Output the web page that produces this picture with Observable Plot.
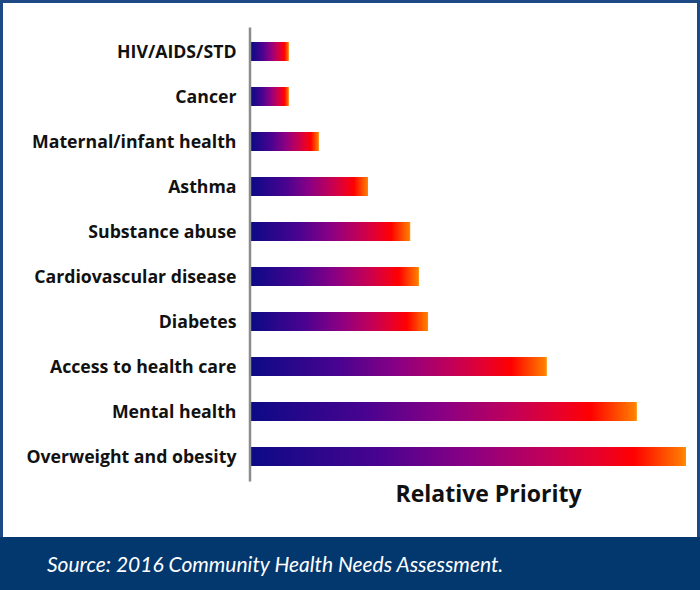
<!DOCTYPE html>
<html>
<head>
<meta charset="utf-8">
<script src="https://cdn.jsdelivr.net/npm/d3@7"></script>
<script src="https://cdn.jsdelivr.net/npm/@observablehq/plot@0.6"></script>
<style>
  html, body { margin: 0; padding: 0; background: #fff; }
  #wrap { position: relative; width: 700px; height: 590px; overflow: hidden; background: #fff; }
  #chart { position: absolute; left: 0; top: 0; }
  #frame { position: absolute; left: 0; top: 0; width: 700px; height: 590px; box-sizing: border-box; border: 3px solid #1d4a85; pointer-events: none; }
  #caption { position: absolute; left: 0; top: 537px; width: 700px; height: 53px; background: #03386f; color: #fff;
    font-family: Lato, "Open Sans", sans-serif; font-style: italic; font-size: 21px; line-height: 53px; padding-left: 47px; box-sizing: border-box; }
</style>
</head>
<body>
<div id="wrap">
  <div id="chart"></div>
  <div id="frame"></div>
  <div id="caption">Source: 2016 Community Health Needs Assessment.</div>
</div>
<script>
const categories = ["HIV/AIDS/STD", "Cancer", "Maternal/infant health", "Asthma", "Substance abuse",
  "Cardiovascular disease", "Diabetes", "Access to health care", "Mental health", "Overweight and obesity"];
const priority = [8.7, 8.7, 15.6, 26.9, 36.6, 38.6, 40.7, 68.0, 88.7, 100];
const axisTitle = "Relative Priority";

const data = categories.map((c, i) => ({category: c, value: priority[i]}));

const gradientStops = [
  [0, "#0c0a86"], [0.3, "#4a0390"], [0.5, "#8a0084"], [0.68, "#c20058"],
  [0.8, "#e8002a"], [0.88, "#ff0000"], [0.99, "#ff7800"], [1, "#ff9000"]
];

function defs() {
  const d = d3.create("svg:defs");
  const g = d.append("linearGradient").attr("id", "barGrad").attr("x1", 0).attr("x2", 1).attr("y1", 0).attr("y2", 0);
  for (const [o, c] of gradientStops) g.append("stop").attr("offset", o).attr("stop-color", c);
  return d.node();
}

const chart = Plot.plot({
  width: 700,
  height: 537,
  marginTop: 27.5,
  marginBottom: 55.5,
  marginLeft: 251,
  marginRight: 14,
  style: {fontFamily: "'Open Sans', Lato, sans-serif", color: "#111", background: "transparent"},
  x: {domain: [0, 100], axis: null},
  y: {domain: categories, paddingInner: 0.57, paddingOuter: 0.28, label: null, axis: null},
  marks: [
    defs,
    Plot.axisY({tickSize: 0, tickPadding: 15, fontSize: 17.7, fontWeight: "bold", label: null}),
    Plot.barX(data, {y: "category", x: "value", fill: "url(#barGrad)"}),
    Plot.ruleX([0], {stroke: "#8c8c8c", strokeWidth: 2.5, dx: -1.5}),
    Plot.text([axisTitle], {frameAnchor: "bottom", dx: 19.5, dy: 20, fontSize: 23, fontWeight: "bold", fill: "#111"})
  ]
});
document.getElementById("chart").appendChild(chart);
</script>
</body>
</html>
